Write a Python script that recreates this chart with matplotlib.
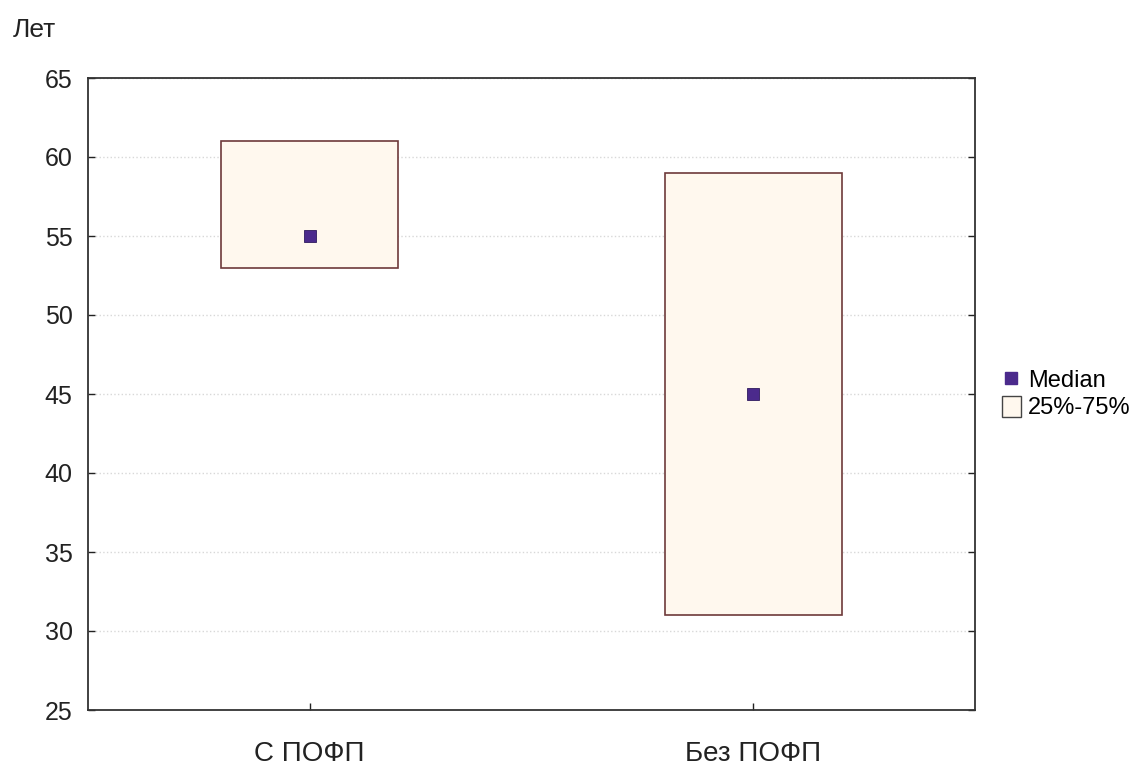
import matplotlib
matplotlib.use('Agg')
from matplotlib import pyplot as plt
from matplotlib.patches import Rectangle
from matplotlib.lines import Line2D

plt.rcParams['font.family'] = ['Liberation Sans', 'DejaVu Sans']

groups = ['С ПОФП', 'Без ПОФП']
medians = [55, 45]
q25 = [53, 31]
q75 = [61, 59]

fig = plt.figure(figsize=(11.42, 7.66), dpi=100)
ax = fig.add_axes([88 / 1142, 1 - 710 / 766, (975 - 88) / 1142, (710 - 78) / 766])

box_w = 0.4
fill = '#fff8ee'
edge = '#6e3a3a'
mcol = '#4b2a8c'

for i, g in enumerate(groups):
    ax.add_patch(Rectangle((i - box_w / 2, q25[i]), box_w, q75[i] - q25[i],
                           facecolor=fill, edgecolor=edge, linewidth=1.2, zorder=2))
ax.plot(range(len(groups)), medians, 's', color=mcol, markersize=8.5,
        markeredgecolor='#2e1a5e', markeredgewidth=0.6, zorder=3)

ax.set_xlim(-0.5, 1.5)
ax.set_ylim(25, 65)
ax.set_yticks(range(25, 66, 5))
ax.set_xticks(range(len(groups)))
ax.set_xticklabels(groups)
ax.yaxis.grid(True, color='#d8d8d8', linestyle=':', linewidth=1.0, zorder=0)
ax.tick_params(direction='in', length=5, width=1, labelsize=18, colors='#222222',
               top=False, right=True, pad=11)
ax.tick_params(axis='x', pad=22, labelsize=20)
for s in ax.spines.values():
    s.set_color('#333333')
    s.set_linewidth(1.3)

fig.text(13 / 1142, 1 - 30 / 766, 'Лет', fontsize=19, color='#222222', va='center')

handles = [Line2D([], [], linestyle='none', marker='s', color=mcol, markersize=8),
           Rectangle((0, 0), 1, 1, facecolor=fill, edgecolor='#444444', linewidth=1)]
fig.legend(handles, ['Median', '25%-75%'], loc='center left',
           bbox_to_anchor=(1002 / 1142, 1 - 394 / 766), frameon=False,
           fontsize=17, handlelength=0.8, handleheight=1.0, handletextpad=0.3,
           labelspacing=0.15, borderpad=0, borderaxespad=0)

fig.savefig('out.png', dpi=100)
